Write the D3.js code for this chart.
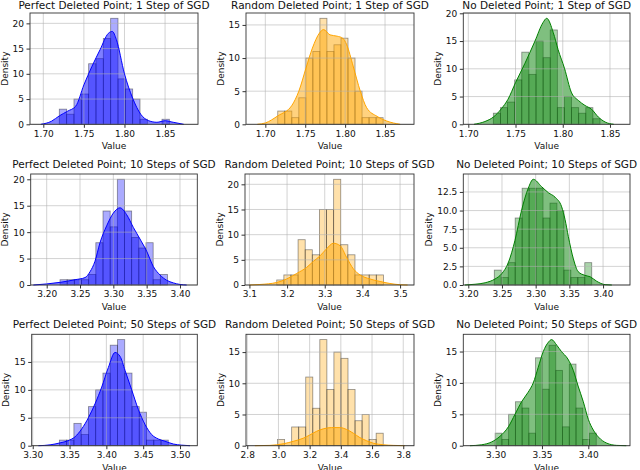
<!DOCTYPE html>
<html><head><meta charset="utf-8">
<script src="https://cdn.jsdelivr.net/npm/d3@7"></script>
<style>body{margin:0;background:#fff} svg{display:block} text{font-family:"DejaVu Sans",sans-serif;}</style>
</head><body><svg id="c" width="640" height="470"></svg>
<script>
const titles = [
 "Perfect Deleted Point; 1 Step of SGD","Random Deleted Point; 1 Step of SGD","No Deleted Point; 1 Step of SGD",
 "Perfect Deleted Point; 10 Steps of SGD","Random Deleted Point; 10 Steps of SGD","No Deleted Point; 10 Steps of SGD",
 "Perfect Deleted Point; 50 Steps of SGD","Random Deleted Point; 50 Steps of SGD","No Deleted Point; 50 Steps of SGD"];
const xLimits = [[1.6836,1.8906],[1.6758,1.8863],[1.6947,1.8712],[3.176,3.426],[3.0883,3.537],[3.1926,3.44],[3.2986,3.5235],[2.792,3.869],[3.2651,3.445]];
const xTickLabels = [
 ["1.70","1.75","1.80","1.85"],["1.70","1.75","1.80","1.85"],["1.70","1.75","1.80","1.85"],
 ["3.20","3.25","3.30","3.35","3.40"],["3.1","3.2","3.3","3.4","3.5"],["3.20","3.25","3.30","3.35","3.40"],
 ["3.30","3.35","3.40","3.45","3.50"],["2.8","3.0","3.2","3.4","3.6","3.8"],["3.30","3.35","3.40"]];
const yTickLabels = [
 ["0","5","10","15","20"],["0","5","10","15"],["0","5","10","15","20"],
 ["0","5","10","15","20"],["0","5","10","15","20"],["0.0","2.5","5.0","7.5","10.0","12.5"],
 ["0","5","10","15"],["0","5","10","15"],["0","5","10","15"]];
const binStarts = [1.7197,1.7156,1.7265,3.22,3.1726,3.2386,3.3362,2.9944,3.2995];
const binWidths = [0.00904,0.0088,0.00753,0.01075,0.01888,0.01033,0.00986,0.04515,0.00727];
const counts = [
 [3,2,5,6,12,13,17,21,9,7,5,1,0,0,1],
 [2,2,1,4,10,11,16,11,12,13,10,5,1,1,1],
 [2,3,4,8,13,9,15,12,17,3,5,3,2,3,1],
 [1,1,1,1,2,8,14,11,20,14,9,7,8,1,2],
 [1,2,2,9,7,6,15,15,21,8,6,2,2,2,2],
 [2,1,3,9,13,13,13,9,11,10,2,1,1,3],
 [1,1,4,2,7,10,13,18,19,13,7,6,1,1,1],
 [1,0,3,3,11,6,17,9,15,14,9,4,5,1,2],
 [2,1,5,7,6,2,14,9,16,12,3,13,6,1,2]];
const kdeX = [
 [1.697,1.71,1.72,1.73,1.74,1.75,1.76,1.77,1.78,1.785,1.79,1.80,1.81,1.82,1.83,1.84,1.85,1.86,1.873],
 [1.690,1.700,1.716,1.733,1.742,1.751,1.759,1.768,1.773,1.781,1.790,1.797,1.802,1.810,1.819,1.827,1.840,1.852,1.869],
 [1.706,1.7176,1.7265,1.735,1.742,1.750,1.760,1.7706,1.779,1.783,1.790,1.795,1.802,1.809,1.8165,1.8235,1.8306,1.8377,1.845,1.854],
 [3.18,3.20,3.22,3.2425,3.2575,3.265,3.2725,3.28,3.29,3.30,3.31,3.32,3.33,3.34,3.35,3.36,3.37,3.38,3.39,3.40,3.41],
 [3.10,3.128,3.1726,3.199,3.2257,3.252,3.27,3.2876,3.305,3.323,3.341,3.358,3.376,3.394,3.42,3.447,3.473,3.50,3.52],
 [3.195,3.21,3.225,3.2396,3.2495,3.2594,3.2693,3.279,3.289,3.2965,3.3089,3.3188,3.3287,3.3386,3.3436,3.3485,3.356,3.363,3.373,3.381,3.3906,3.403,3.413],
 [3.3077,3.3235,3.337,3.348,3.3575,3.3665,3.3756,3.3846,3.3937,3.4027,3.4118,3.4186,3.4253,3.4344,3.4434,3.4525,3.4615,3.4706,3.4796,3.491,3.502,3.5136],
 [2.849,2.945,3.03,3.095,3.159,3.2,3.244,3.287,3.34,3.394,3.437,3.48,3.522,3.565,3.608,3.672,3.736,3.81],
 [3.2723,3.285,3.2957,3.3047,3.3137,3.3209,3.328,3.335,3.3406,3.346,3.3514,3.357,3.3604,3.366,3.371,3.378,3.3838,3.389,3.3946,3.40,3.4054,3.4108,3.42,3.4306,3.441]];
const kdeY = [
 [0,0.6,1.7,2.6,3.6,7.8,11.5,14.8,18.0,18.4,16.8,10.0,5.2,2.0,0.7,0.4,0.7,0.4,0],
 [0,0.2,1.3,2.8,5.0,8.5,11.5,13.8,14.3,13.5,13.3,13.0,12.0,8.8,5.0,2.5,1.2,0.5,0],
 [0,0.5,1.3,2.8,4.5,7.5,11,15,18.3,19.1,16.5,13.5,10,5.8,4.3,3.4,2.7,1.3,0.4,0],
 [0,0.2,0.5,1.0,1.4,2.5,4.5,8.0,11.2,13.6,14.6,13.3,10.9,8.7,6.4,3.5,1.9,0.9,0.4,0.1,0],
 [0,0.1,0.5,1.2,2.3,3.5,4.7,5.8,7.2,8.3,7.8,5.5,3.2,2.0,1.2,0.7,0.3,0.05,0],
 [0,0.1,0.3,0.8,1.5,3,6,10,13,14.2,13.2,12.4,11.8,10.5,8.8,6.5,3.5,1.8,1.3,1.1,0.5,0.05,0],
 [0,0.15,0.5,0.9,1.6,3.0,5,7.5,10.5,14,16.7,16,13.5,10,6.5,3.8,2.0,1.2,0.8,0.3,0.1,0],
 [0,0.05,0.3,0.7,1.2,1.7,2.3,2.7,2.9,2.9,2.6,2.0,1.3,0.8,0.4,0.15,0.05,0],
 [0,0.15,0.6,1.5,3,5,7,8.5,10,12.5,15,16.5,16.9,16,15,13.8,12,9.5,7,4.2,2.5,1.4,0.4,0.05,0]];

const colors = ["#0000ff","#ffa500","#008000"];
const layout = [
 [30,13,198,124.3],[246,13,414,124.3],[463.3,13,630,124.3],
 [30.7,174,197.3,285],[245,174,414,285],[463.3,174,630,285],
 [31.7,334.3,197.3,445.7],[246,334.3,414,445.7],[463.3,334.3,630,445.7]];
const titleBaselines = [8.8,8.8,8.8,167.5,167.5,167.5,327.8,327.8,327.8];

const svg = d3.select("#c");
for (let i = 0; i < 9; i++) {
  const [l,t,r,b] = layout[i];
  const col = colors[i % 3];
  const x = d3.scaleLinear().domain(xLimits[i]).range([l,r]);
  const ymax = 1.05 * Math.max(d3.max(counts[i]), d3.max(kdeY[i]));
  const y = d3.scaleLinear().domain([0,ymax]).range([b,t]);
  const g = svg.append("g");
  const bins = counts[i].map((c,k)=>({x0:binStarts[i]+k*binWidths[i], x1:binStarts[i]+(k+1)*binWidths[i], c}));
  g.selectAll("rect.bar").data(bins.filter(d=>d.c>0)).join("rect").attr("class","bar")
    .attr("x",d=>x(d.x0)).attr("width",d=>x(d.x1)-x(d.x0))
    .attr("y",d=>y(d.c)).attr("height",d=>y(0)-y(d.c))
    .attr("fill",col).attr("fill-opacity",0.33)
    .attr("stroke","#222").attr("stroke-opacity",0.5).attr("stroke-width",0.8);
  const pts = kdeX[i].map((v,k)=>[v,kdeY[i][k]]);
  const area = d3.area().x(d=>x(d[0])).y0(y(0)).y1(d=>y(d[1])).curve(d3.curveMonotoneX);
  g.append("path").datum(pts).attr("d",area).attr("fill",col).attr("fill-opacity",0.5);
  const xt = xTickLabels[i].map(Number), yt = yTickLabels[i].map(Number);
  g.selectAll("line.gx").data(xt).join("line").attr("x1",d=>x(d)).attr("x2",d=>x(d)).attr("y1",t).attr("y2",b)
    .attr("stroke","#b0b0b0").attr("stroke-opacity",0.7).attr("stroke-width",0.8);
  g.selectAll("line.gy").data(yt).join("line").attr("y1",d=>y(d)).attr("y2",d=>y(d)).attr("x1",l).attr("x2",r)
    .attr("stroke","#b0b0b0").attr("stroke-opacity",0.7).attr("stroke-width",0.8);
  const line = d3.line().x(d=>x(d[0])).y(d=>y(d[1])).curve(d3.curveMonotoneX);
  g.append("path").datum(pts).attr("d",line).attr("fill","none").attr("stroke",col).attr("stroke-width",1);
  g.append("rect").attr("x",l).attr("y",t).attr("width",r-l).attr("height",b-t).attr("fill","none").attr("stroke","#333").attr("stroke-width",0.9);
  const xa = g.append("g").attr("transform",`translate(0,${b})`)
    .call(d3.axisBottom(x).tickValues(xt).tickFormat((d,k)=>xTickLabels[i][k]).tickSize(3.5).tickPadding(2.5));
  const ya = g.append("g").attr("transform",`translate(${l},0)`)
    .call(d3.axisLeft(y).tickValues(yt).tickFormat((d,k)=>yTickLabels[i][k]).tickSize(3.5).tickPadding(2.5));
  [xa,ya].forEach(a=>{a.select(".domain").remove(); a.selectAll("line").attr("stroke","#333");
    a.selectAll("text").attr("font-size",9).attr("fill","#111").attr("font-family","DejaVu Sans");});
  const bb = ya.node().getBBox();
  g.append("text").attr("transform",`translate(${l+bb.x-5},${(t+b)/2}) rotate(-90)`).attr("text-anchor","middle")
    .attr("font-size",9).attr("fill","#111").text("Density");
  g.append("text").attr("x",(l+r)/2).attr("y",b+25).attr("text-anchor","middle").attr("font-size",9).attr("fill","#111").text("Value");
  g.append("text").attr("x",(l+r)/2).attr("y",titleBaselines[i]).attr("text-anchor","middle").attr("font-size",10.5).attr("fill","#111").text(titles[i]);
}
</script></body></html>
